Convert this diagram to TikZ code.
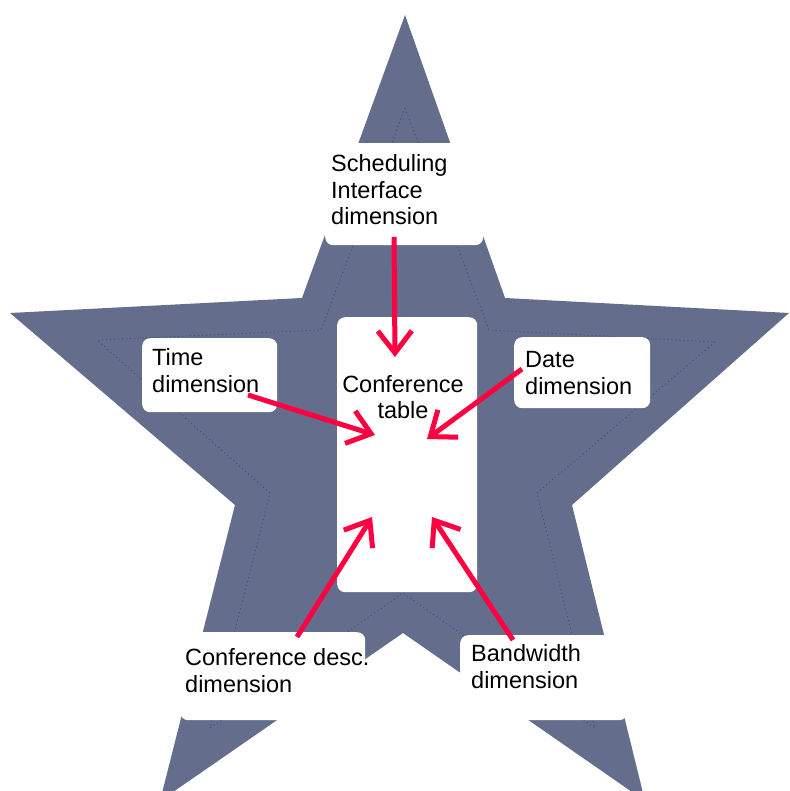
\documentclass[tikz,border=0pt]{standalone}
\usepackage{fontspec}
\setmainfont{Liberation Sans}
\usetikzlibrary{arrows.meta}
\definecolor{starblue}{RGB}{100,109,140}
\definecolor{dotblue}{RGB}{60,72,130}
\definecolor{arrowred}{RGB}{255,0,64}
\tikzset{
  whitebox/.style={fill=white, draw=none, rounded corners=8pt, inner sep=0pt},
  lbl/.style={font=\fontsize{23.5pt}{26.8pt}\selectfont, align=left, inner sep=0pt, anchor=base west},
  clbl/.style={font=\fontsize{23.5pt}{25.5pt}\selectfont, align=center, inner sep=0pt, anchor=base},
  redarrow/.style={draw=arrowred, line width=5pt, -{Straight Barb[length=22pt,width=34pt,line width=5pt]}}
}
\begin{document}
\begin{tikzpicture}[x=1pt,y=-1pt]
\useasboundingbox (0,0) rectangle (789,791);
\clip (0,0) rectangle (789,791);
% star
\fill[starblue] (405,15) -- (505,298) -- (789,313) -- (572,505) -- (645,801)
  -- (403,633) -- (160,801) -- (235,505) -- (10,313) -- (302,298) -- cycle;
% inner dotted outline
\draw[dotblue, line width=0.8pt, dash pattern=on 1pt off 3pt]
  (405,108) -- (489,330) -- (715,342) -- (537,493) -- (595,728)
  -- (403,593) -- (210,728) -- (270,493) -- (97,340) -- (321,330) -- cycle;
% boxes
\node[whitebox, minimum width=158pt, minimum height=102pt, anchor=north west] (schedulebox) at (325,143) {};
\node[whitebox, minimum width=140pt, minimum height=275pt, anchor=north west] (table) at (337,317) {};
\node[whitebox, minimum width=135pt, minimum height=74pt, anchor=north west] (timebox) at (142,338) {};
\node[whitebox, minimum width=136pt, minimum height=71pt, anchor=north west] (datebox) at (514,337) {};
\node[whitebox, minimum width=185pt, minimum height=88pt, anchor=north west] (descbox) at (180,632) {};
\node[whitebox, minimum width=167pt, minimum height=85pt, anchor=north west] (bwbox) at (460,635) {};
% labels (anchored at the baseline of the last line)
\node[lbl] (schedtxt) at (331,225) {Scheduling\\Interface\\dimension};
\node[lbl] (timetxt) at (152,392) {Time\\dimension};
\node[lbl] (datetxt) at (525,394) {Date\\dimension};
\node[clbl] (tabletxt) at (403,418) {Conference\\table};
\node[lbl] (desctxt) at (185,692) {Conference desc.\\dimension};
\node[lbl] (bwtxt) at (471,688) {Bandwidth\\dimension};
% arrow end points
\coordinate (s1) at (394,237);
\coordinate (e1) at (395,357);
\coordinate (s2) at (248,395);
\coordinate (e2) at (375,435);
\coordinate (s3) at (522,369);
\coordinate (e3) at (427,439);
\coordinate (s4) at (297,637);
\coordinate (e4) at (372,517);
\coordinate (s5) at (513,640);
\coordinate (e5) at (432,517);
\draw[redarrow] (s1) -- (e1);
\draw[redarrow] (s2) -- (e2);
\draw[redarrow] (s3) -- (e3);
\draw[redarrow] (s4) -- (e4);
\draw[redarrow] (s5) -- (e5);
\end{tikzpicture}
\end{document}
